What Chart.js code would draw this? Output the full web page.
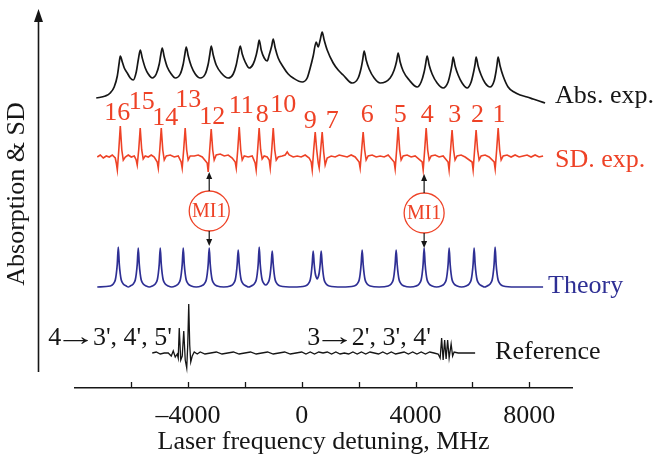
<!DOCTYPE html>
<html>
<head>
<meta charset="utf-8">
<script src="https://cdn.jsdelivr.net/npm/chart.js@4.4.1/dist/chart.umd.min.js"></script>
<style>
  html, body { margin: 0; background: #fff; }
</style>
</head>
<body>
<canvas id="spectrum" width="656" height="457"></canvas>
<script>
// Ticks of the detuning axis (MHz)
const tickValues = [-6000, -4000, -2000, 0, 2000, 4000, 6000, 8000];
const tickLabels = ['', '\u20134000', '', '0', '', '4000', '', '8000'];

// Peak names (hyperfine components)
const peakNames = ['16', '15', '14', '13', '12', '11', '8', '10', '9', '7', '6', '5', '4', '3', '2', '1'];

// Abs. exp. trace: detuning (MHz) and signal (arb. units)
const absMHz = [-7220, -6900, -6730, -6590, -6480, -6410, -6375, -6305, -6235, -6130, -6025, -5920,
    -5814, -5744, -5673, -5603, -5498, -5392, -5252,
    -5111, -5006, -4953, -4901, -4830, -4725, -4584, -4444,
    -4268, -4163, -4110, -4058, -3987, -3882, -3741, -3566,
    -3390, -3285, -3232, -3179, -3109, -3004, -2828, -2582,
    -2406, -2301, -2231, -2160, -2090, -1985, -1844,
    -1704, -1598, -1546, -1493, -1423, -1317, -1212,
    -1142, -1054, -1001, -931, -826, -650, -474, -299, 18,
    193, 299, 404, 509, 580, 650, 720, 790, 896, 1107, 1282, 1458, 1774,
    1985, 2090, 2143, 2196, 2266, 2371, 2547, 2758,
    3109, 3250, 3337, 3390, 3460, 3566, 3776, 4058,
    4198, 4303, 4356, 4409, 4479, 4584, 4760, 4971,
    5146, 5234, 5287, 5322, 5392, 5498, 5638, 5814,
    5955, 6042, 6095, 6130, 6200, 6306, 6446, 6622,
    6762, 6833, 6868, 6903, 6973, 7079, 7254, 7465, 7676, 7922, 8133, 8343, 8554];
const absSignal = [290, 292, 295, 301, 312, 326, 332, 326, 320, 315, 310, 308,
    316, 328, 338, 330, 320, 314, 310,
    314, 324, 333, 340, 331, 321, 314, 310,
    314, 324, 333, 341, 332, 322, 314, 310,
    314, 324, 333, 342, 333, 323, 315, 310,
    314, 323, 333, 342, 334, 326, 320,
    324, 333, 340, 348, 338, 330, 327,
    333, 342, 349, 340, 330, 321, 314, 310, 306,
    310, 320, 332, 346, 341, 348, 356, 348, 338, 325, 318, 313, 305,
    310, 320, 328, 337, 328, 319, 310, 305,
    310, 318, 327, 335, 326, 317, 308, 301,
    306, 316, 324, 332, 323, 314, 305, 300,
    306, 316, 324, 331, 322, 313, 305, 300,
    306, 316, 324, 331, 322, 313, 305, 301,
    307, 317, 324, 331, 322, 312, 301, 296, 293, 291, 289, 287, 285];

// SD. exp. trace
const sdMHz = [-7184, -7079, -6973, -6868, -6763, -6657, -6552,
    -6516, -6480, -6428, -6375, -6322, -6270, -6199,
    -6095, -5990, -5884,
    -5816, -5780, -5728, -5675, -5622, -5570, -5499,
    -5392, -5287, -5182,
    -5076, -5040, -4988, -4935, -4882, -4830, -4759,
    -4619, -4479, -4338,
    -4236, -4200, -4148, -4095, -4042, -3990, -3919,
    -3776, -3636, -3495,
    -3321, -3285, -3233, -3180, -3127, -3075, -3004,
    -2863, -2723, -2582, -2441,
    -2336, -2300, -2248, -2195, -2142, -2090, -2019,
    -1879, -1739,
    -1636, -1600, -1548, -1495, -1442, -1390, -1319,
    -1212,
    -1141, -1105, -1053, -1000, -947, -895, -824,
    -685, -580, -509, -439, -299, -158, -18, 123, 263,
    334, 370, 422, 475, 528, 580, 615, 667, 720, 773, 825, 896,
    1036, 1177, 1317, 1458, 1598, 1739, 1879,
    2019, 2055, 2107, 2160, 2213, 2265, 2336,
    2477, 2617, 2758, 2898, 3039,
    3249, 3285, 3337, 3390, 3443, 3495, 3566,
    3706, 3847, 3987,
    4234, 4270, 4322, 4375, 4428, 4480, 4551,
    4690, 4830, 4971,
    5144, 5180, 5232, 5285, 5338, 5390, 5461,
    5603, 5744,
    5989, 6025, 6077, 6130, 6183, 6235, 6306,
    6446, 6587,
    6764, 6800, 6852, 6905, 6958, 7010, 7081,
    7219, 7360, 7500, 7641, 7781, 7922, 8062, 8203, 8343, 8484];
const sdSignal = [231, 233, 230, 232, 231, 233, 230,
    225, 218, 238, 262, 238, 228, 231,
    233, 231, 232,
    228, 223, 238, 260, 238, 229, 232,
    231, 233, 231,
    226, 220, 238, 260, 238, 228, 232,
    233, 231, 232,
    226, 220, 238, 260, 238, 228, 232,
    232, 233, 231,
    225, 216, 238, 259, 238, 228, 233,
    234, 232, 233, 230,
    226, 220, 238, 261, 238, 228, 232,
    231, 232,
    225, 218, 238, 260, 238, 229, 232,
    231,
    228, 220, 238, 260, 238, 228, 231,
    232, 233, 236, 233, 231, 232, 231, 233, 230,
    226, 218, 238, 256, 238, 225, 220, 238, 256, 236, 223, 230,
    232, 231, 233, 232, 231, 233, 231,
    226, 220, 238, 256, 238, 228, 232,
    233, 231, 232, 231, 233,
    226, 219, 238, 261, 238, 228, 232,
    233, 231, 232,
    226, 218, 238, 260, 238, 228, 232,
    233, 231, 232,
    226, 218, 238, 258, 238, 228, 232,
    233, 231,
    226, 218, 238, 258, 238, 228, 232,
    233, 231,
    226, 219, 238, 260, 238, 228, 232,
    233, 231, 233, 231, 232, 233, 231, 233, 231, 232];

// Theory trace
const theoryMHz = [-7184,
    -6727, -6622, -6551, -6516, -6481, -6446, -6411, -6376, -6341, -6270, -6165, -6095,
    -6025, -5920, -5849, -5814, -5779, -5744, -5709, -5674, -5639, -5568, -5463, -5358,
    -5252, -5147, -5076, -5041, -5006, -4971, -4936, -4901, -4866, -4795, -4690, -4567,
    -4444, -4339, -4268, -4233, -4198, -4163, -4128, -4093, -4058, -3987, -3882, -3707,
    -3531, -3426, -3355, -3320, -3285, -3250, -3215, -3180, -3145, -3074, -2969, -2740,
    -2512, -2407, -2336, -2301, -2266, -2231, -2196, -2161, -2126, -2055, -1950, -1862,
    -1774, -1669, -1598, -1563, -1528, -1493, -1458, -1423, -1388, -1317, -1265,
    -1212, -1141, -1106, -1071, -1036, -1001, -966, -931, -860, -755, -300,
    123, 228, 299, 334, 369, 404, 439, 474, 509, 545, 580, 615, 650, 685, 720, 755, 790, 861, 966, 1405,
    1844, 1949, 2020, 2055, 2090, 2125, 2160, 2195, 2230, 2301, 2406, 2722,
    3039, 3144, 3215, 3250, 3285, 3320, 3355, 3390, 3425, 3496, 3601, 3811,
    4022, 4127, 4198, 4233, 4268, 4303, 4338, 4373, 4408, 4479, 4584, 4742,
    4901, 5006, 5077, 5112, 5147, 5182, 5217, 5252, 5287, 5358, 5463, 5621,
    5779, 5884, 5955, 5990, 6025, 6060, 6095, 6130, 6165, 6236, 6341, 6429,
    6517, 6622, 6693, 6728, 6763, 6798, 6833, 6868, 6903, 6974, 7079, 7500, 8484];
const theorySignal = [101,
    102, 104, 108, 114, 124, 141, 124, 114, 108, 104, 102, 101,
    102, 104, 108, 114, 124, 140, 124, 114, 108, 104, 102, 101,
    102, 104, 108, 114, 124, 140, 124, 114, 108, 104, 102, 101,
    102, 104, 108, 114, 124, 140, 124, 114, 108, 104, 102, 101,
    102, 104, 108, 114, 124, 140, 124, 114, 108, 104, 102, 101,
    102, 104, 108, 114, 124, 138, 124, 114, 108, 104, 102, 101,
    102, 104, 108, 114, 124, 141, 124, 114, 108, 104, 103,
    104, 108, 114, 124, 137, 124, 114, 108, 104, 102, 101,
    102, 104, 108, 114, 124, 137, 124, 115, 111, 109, 111, 115, 124, 137, 124, 114, 108, 104, 102, 101,
    102, 104, 108, 114, 124, 138, 124, 114, 108, 104, 102, 101,
    102, 104, 108, 114, 124, 138, 124, 114, 108, 104, 102, 101,
    102, 104, 108, 114, 124, 140, 124, 114, 108, 104, 102, 101,
    102, 104, 108, 114, 124, 140, 124, 114, 108, 104, 102, 101,
    102, 104, 108, 114, 124, 140, 124, 114, 108, 104, 102, 101,
    102, 104, 108, 114, 124, 141, 124, 114, 108, 104, 102, 101, 101];

// Reference trace (Cs D2 lines)
const refMHz = [-5252, -5111, -4971, -4830, -4690, -4584, -4514, -4444, -4374, -4339, -4303, -4251,
    -4198, -4145, -4093, -4040, -4005, -3970, -3935, -3899, -3847, -3776, -3671, -3566,
    -3400, -3200, -3000, -2800, -2600, -2400, -2200, -2000, -1800, -1600, -1400, -1200,
    -1000, -800, -600, -400, -200, 0,
    150, 300, 450, 600, 750, 900, 1050, 1200, 1350, 1500, 1650, 1800, 1950, 2100, 2250,
    2400, 2550, 2700, 2850, 3000, 3150, 3300, 3450, 3600, 3750, 3900, 4050, 4200, 4350,
    4500, 4650, 4795, 4866, 4918, 4971, 5024, 5076, 5129, 5182, 5252, 5304, 5357, 5498, 5744, 6095];
const refSignal = [35, 36, 34, 35, 35, 32, 37, 31, 34, 30, 60, 28,
    32, 57, 28, 20, 43, 84, 43, 26, 32, 36, 34, 36,
    34, 35, 36, 34, 35, 36, 34, 35, 36, 34, 35, 36,
    34, 35, 36, 34, 35, 36,
    34, 36, 34, 36, 35, 36, 34, 36, 34, 35, 34, 36, 34, 36, 34,
    36, 35, 34, 36, 34, 36, 34, 35, 36, 34, 36, 34, 36, 34,
    36, 35, 34, 30, 50, 28, 48, 29, 48, 30, 44, 32, 36, 35, 35, 35];

const red = '#ee4226';
const blue = '#2e2f94';
const ink = '#161616';
const serif = '"Liberation Serif", "Times New Roman", serif';

function toPoints(xs, ys) {
    return xs.map((x, i) => ({ x: x, y: ys[i] }));
}

// "a -> b" text, arrow glyph stretched to look like the original
function drawTransition(ctx, x, y, from, to) {
    const stretch = 1.6;
    ctx.font = '26px ' + serif;
    ctx.fillText(from, x, y);
    const inkStart = x + ctx.measureText(from).width + 2;
    const m = ctx.measureText('\u2192');
    const origin = inkStart + stretch * m.actualBoundingBoxLeft;
    ctx.save();
    ctx.translate(origin, y);
    ctx.scale(stretch, 1);
    ctx.fillText('\u2192', 0, 0);
    ctx.restore();
    ctx.fillText(to, origin + stretch * m.actualBoundingBoxRight + 4, y);
}

// Labels and annotations drawn over the plot
const decorPlugin = {
    id: 'decor',
    afterDraw(chart) {
        const ctx = chart.ctx;
        const xs = chart.scales.x;
        const ys = chart.scales.y;
        const px = v => xs.getPixelForValue(v);
        const py = v => ys.getPixelForValue(v);
        const bottom = chart.chartArea.bottom;
        ctx.save();

        // vertical axis with arrow
        ctx.strokeStyle = ink;
        ctx.fillStyle = ink;
        ctx.lineWidth = 1.6;
        ctx.beginPath();
        ctx.moveTo(38.5, 372);
        ctx.lineTo(38.5, 18);
        ctx.stroke();
        ctx.beginPath();
        ctx.moveTo(38.5, 9);
        ctx.lineTo(34, 22);
        ctx.lineTo(43, 22);
        ctx.closePath();
        ctx.fill();

        // ticks pointing up
        ctx.lineWidth = 1.3;
        tickValues.forEach(v => {
            const x = Math.round(px(v)) + 0.5;
            ctx.beginPath();
            ctx.moveTo(x, bottom);
            ctx.lineTo(x, bottom - 6);
            ctx.stroke();
        });

        // series names
        ctx.font = '26px ' + serif;
        ctx.textBaseline = 'alphabetic';
        ctx.textAlign = 'left';
        ctx.fillStyle = ink;
        ctx.fillText('Abs. exp.', px(8905), py(285));
        ctx.fillText('Reference', px(6798), py(29));
        drawTransition(ctx, px(-8906), py(43), '4', '3\', 4\', 5\'');
        drawTransition(ctx, px(193), py(43), '3', '2\', 3\', 4\'');
        ctx.font = '26px ' + serif;
        ctx.fillStyle = red;
        ctx.fillText('SD. exp.', px(8905), py(221));
        ctx.fillStyle = blue;
        ctx.fillText('Theory', px(8660), py(95));

        // peak numbers
        const labelX = [-6481, -5621, -4795, -3987, -3144, -2126, -1388, -650, 299, 1071, 2301, 3460, 4409, 5375, 6183, 6938];
        const labelY = [268, 279, 263, 281, 264, 275, 266, 276, 260, 260, 266, 266, 266, 266, 266, 266];
        ctx.fillStyle = red;
        ctx.textAlign = 'center';
        peakNames.forEach((name, i) => {
            ctx.fillText(name, px(labelX[i]), py(labelY[i]));
        });

        // MI1 markers between SD and theory
        [[-3250, 177], [4303, 175]].forEach(([mx, my]) => {
            const cx = px(mx);
            const cy = py(my);
            ctx.strokeStyle = red;
            ctx.lineWidth = 1.3;
            ctx.beginPath();
            ctx.arc(cx, cy, 20, 0, Math.PI * 2);
            ctx.stroke();
            ctx.fillStyle = red;
            ctx.font = '20px ' + serif;
            ctx.textBaseline = 'middle';
            ctx.fillText('MI1', cx, cy + 1);
            // arrows
            ctx.strokeStyle = ink;
            ctx.fillStyle = ink;
            ctx.lineWidth = 1.2;
            ctx.beginPath();
            ctx.moveTo(cx, cy - 20);
            ctx.lineTo(cx, cy - 34);
            ctx.moveTo(cx, cy + 20);
            ctx.lineTo(cx, cy + 30);
            ctx.stroke();
            ctx.beginPath();
            ctx.moveTo(cx, cy - 39);
            ctx.lineTo(cx - 3, cy - 32);
            ctx.lineTo(cx + 3, cy - 32);
            ctx.closePath();
            ctx.moveTo(cx, cy + 35);
            ctx.lineTo(cx - 3, cy + 28);
            ctx.lineTo(cx + 3, cy + 28);
            ctx.closePath();
            ctx.fill();
        });
        ctx.restore();
    }
};

// Chart configuration
const spectrumConfig = {
    type: 'scatter',
    data: {
        datasets: [{
            label: 'Abs. exp.',
            data: toPoints(absMHz, absSignal),
            borderColor: ink,
            borderWidth: 1.7,
            cubicInterpolationMode: 'monotone'
        }, {
            label: 'SD. exp.',
            data: toPoints(sdMHz, sdSignal),
            borderColor: red,
            borderWidth: 1.6
        }, {
            label: 'Theory',
            data: toPoints(theoryMHz, theorySignal),
            borderColor: blue,
            borderWidth: 1.7,
            cubicInterpolationMode: 'monotone'
        }, {
            label: 'Reference',
            data: toPoints(refMHz, refSignal),
            borderColor: ink,
            borderWidth: 1.3
        }]
    },
    options: {
        responsive: false,
        animation: false,
        showLine: true,
        elements: { point: { radius: 0, hoverRadius: 0 } },
        layout: { padding: { left: 0, right: 84, top: 0, bottom: 0 } },
        plugins: {
            legend: { display: false },
            tooltip: { enabled: false }
        },
        scales: {
            x: {
                type: 'linear',
                position: 'bottom',
                min: -7960,
                max: 9500,
                afterBuildTicks: scale => {
                    scale.ticks = tickValues.map(v => ({ value: v }));
                },
                grid: { display: false, drawTicks: false },
                border: { display: true, color: ink, width: 1.6 },
                ticks: {
                    autoSkip: false,
                    maxRotation: 0,
                    padding: 15,
                    color: ink,
                    font: { family: serif, size: 26, lineHeight: 1 },
                    callback: (value, index) => tickLabels[index]
                },
                title: {
                    display: true,
                    text: 'Laser frequency detuning, MHz',
                    color: ink,
                    font: { family: serif, size: 26, lineHeight: 1 },
                    padding: { top: -15, bottom: 2 }
                }
            },
            y: {
                type: 'linear',
                min: 0,
                max: 388,
                grid: { display: false, drawTicks: false },
                border: { display: false },
                ticks: { display: false },
                title: {
                    display: true,
                    text: 'Absorption & SD',
                    color: ink,
                    font: { family: serif, size: 26, lineHeight: 1.2 },
                    padding: { top: 2, bottom: 42 }
                }
            }
        }
    },
    plugins: [decorPlugin]
};

// Create the chart
const spectrumChart = new Chart(
    document.getElementById('spectrum'),
    spectrumConfig
);
</script>
</body>
</html>
